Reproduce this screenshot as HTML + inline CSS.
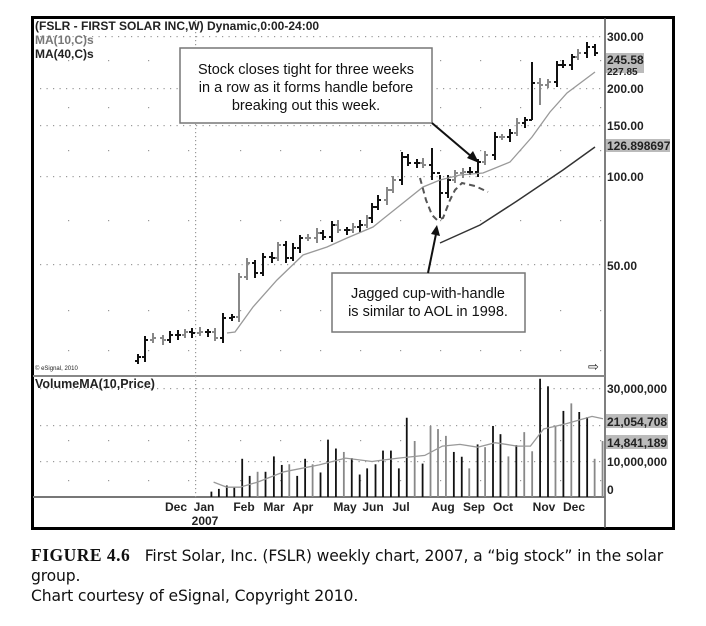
<!DOCTYPE html>
<html><head><meta charset="utf-8">
<style>
body{margin:0;background:#fff;width:706px;height:626px;overflow:hidden;font-family:"Liberation Sans",sans-serif}
svg{position:absolute;left:0;top:0}
.cap{position:absolute;left:31px;font-size:15.6px;color:#111;line-height:20px;font-family:"DejaVu Sans","Liberation Sans",sans-serif;letter-spacing:-0.15px;white-space:nowrap}
</style></head><body>
<svg id="s" width="706" height="626" xmlns="http://www.w3.org/2000/svg" font-family="Liberation Sans, sans-serif">
<rect x="32.5" y="17.5" width="641" height="511" fill="#fff" stroke="#000" stroke-width="3"/>
<line x1="605" y1="18" x2="605" y2="528" stroke="#555" stroke-width="1.5"/>
<line x1="33" y1="376" x2="605" y2="376" stroke="#888" stroke-width="2"/>
<line x1="33" y1="497" x2="605" y2="497" stroke="#777" stroke-width="2"/>
<g id="grid" fill="#999"></g>
<g id="bars"></g>
<polyline fill="none" stroke="#999" stroke-width="1.3" points="227,333 235,332 253,307 277,280 303,255 327,247 347,238 373,227 403,203 423,187 440,180 460,175 483,173 510,162 532,137 550,112 567,93 595,72"/>
<polyline fill="none" stroke="#333" stroke-width="1.5" points="440,243 480,225 517,201 563,170 595,147"/>
<polyline fill="none" stroke="#555" stroke-width="2" stroke-dasharray="6,4" points="420,178 426,200 432,215 437,220 443,218 450,200 455,190 462,183 475,186 488,192"/>
<rect x="180" y="48" width="252" height="75" fill="#fff" stroke="#777" stroke-width="1.5"/>
<g font-size="14.5" text-anchor="middle" fill="#111">
<text x="306" y="74">Stock closes tight for three weeks</text>
<text x="306" y="92">in a row as it forms handle before</text>
<text x="306" y="110">breaking out this week.</text>
</g>
<line x1="432" y1="123" x2="472" y2="157" stroke="#111" stroke-width="2"/>
<polygon points="479,163 467,158 473,151" fill="#111"/>
<rect x="332" y="273" width="193" height="59" fill="#fff" stroke="#777" stroke-width="1.5"/>
<g font-size="14.5" text-anchor="middle" fill="#111">
<text x="428" y="298">Jagged cup-with-handle</text>
<text x="428" y="316">is similar to AOL in 1998.</text>
</g>
<line x1="428" y1="273" x2="436" y2="234" stroke="#111" stroke-width="2"/>
<polygon points="437,225 440,236 431,234" fill="#111"/>
<g id="vol"></g>
<polyline id="vma" fill="none" stroke="#999" stroke-width="1.3" points=""/>
<g font-size="12" font-weight="bold" fill="#222">
<text x="35" y="30">(FSLR - FIRST SOLAR INC,W) Dynamic,0:00-24:00</text>
<text x="35" y="44" fill="#777">MA(10,C)s</text>
<text x="35" y="58">MA(40,C)s</text>
<text x="35" y="388" font-size="12.5">VolumeMA(10,Price)</text>
<text x="35" y="370" font-size="6" font-weight="normal">© eSignal, 2010</text>
<text x="588" y="371" font-size="13" font-weight="normal">⇨</text>
</g>
<g font-size="12" font-weight="bold" fill="#222">
<rect x="606" y="53" width="38" height="12" fill="#bbb"/>
<rect x="606" y="63" width="38" height="10" fill="#bbb"/>
<rect x="606" y="139" width="64" height="13" fill="#bbb"/>
<rect x="606" y="414" width="62" height="14" fill="#bbb"/>
<rect x="606" y="435" width="62" height="14" fill="#bbb"/>
<text x="607" y="41">300.00</text>
<text x="607" y="64">245.58</text>
<text x="607" y="75" font-size="10">227.85</text>
<text x="607" y="93">200.00</text>
<text x="607" y="130">150.00</text>
<text x="607" y="150">126.898697</text>
<text x="607" y="181">100.00</text>
<text x="607" y="270">50.00</text>
<text x="607" y="393">30,000,000</text>
<text x="607" y="426">21,054,708</text>
<text x="607" y="447">14,841,189</text>
<text x="607" y="466">10,000,000</text>
<text x="607" y="494">0</text>
</g>
<g font-size="12" font-weight="bold" fill="#222" text-anchor="middle">
<text x="176" y="511">Dec</text><text x="204" y="511">Jan</text><text x="205" y="525">2007</text>
<text x="244" y="511">Feb</text><text x="274" y="511">Mar</text><text x="303" y="511">Apr</text>
<text x="345" y="511">May</text><text x="373" y="511">Jun</text><text x="401" y="511">Jul</text>
<text x="443" y="511">Aug</text><text x="474" y="511">Sep</text><text x="503" y="511">Oct</text>
<text x="544" y="511">Nov</text><text x="574" y="511">Dec</text>
</g>
</svg>
<div class="cap" style="top:545px"><b style="font-family:'Liberation Serif',serif;font-size:17.5px;letter-spacing:0.5px">FIGURE 4.6</b>&nbsp;&nbsp; First Solar, Inc. (FSLR) weekly chart, 2007, a “big stock” in the solar</div>
<div class="cap" style="top:566px">group.</div>
<div class="cap" style="top:586px">Chart courtesy of eSignal, Copyright 2010.</div>
<script>
var NS="http://www.w3.org/2000/svg";
function el(p,t,a){var e=document.createElementNS(NS,t);for(var k in a)e.setAttribute(k,a[k]);p.appendChild(e);return e;}
var g=document.getElementById('grid');
[36,88,125,176,264,388,425,461].forEach(function(y){for(var x=40;x<603;x+=6.5)el(g,'rect',{x:x,y:y,width:1.2,height:1.2});});
[60,107,150,220,310,350,440,480].forEach(function(y){for(var x=68;x<603;x+=40)el(g,'rect',{x:x+(x>190?12:0),y:y,width:1.2,height:1.2});});
for(var y=20;y<500;y+=4)el(g,'rect',{x:195,y:y,width:1.2,height:1.2});
var pts=[[138,357],[145,340],[153,338],[163,340],[170,335],[178,335],[185,332],[192,333],[200,332],[208,332],[215,338],[223,318],[232,317],[239,277],[247,263],[255,273],[263,257],[272,258],[278,245],[286,258],[293,248],[300,238],[308,238],[317,233],[323,237],[332,225],[338,230],[347,230],[353,227],[360,225],[367,218],[372,207],[378,200],[387,190],[393,180],[402,157],[408,163],[417,163],[423,165],[432,173],[440,193],[448,180],[455,173],[463,172],[470,172],[478,162],[485,155],[495,137],[502,137],[510,133],[517,123],[525,120],[532,83],[540,85],[548,82],[557,65],[563,65],[572,57],[578,53],[587,47],[595,53]];
var b=document.getElementById('bars');
var prev=pts[0][1]+4;
pts.forEach(function(p,i){
 var x=p[0],c=p[1],o=prev;var hi=Math.min(o,c)-3-(i%3),lo=Math.max(o,c)+3+(i%2)*2;
 if(i==39){hi=148;lo=180;} if(i==40){lo=218;hi=175;} if(i==52){hi=62;lo=120;} if(i==53){lo=105;}
 var col=(i%4==2||i%5==3)?'#888':'#111';
 el(b,'line',{x1:x,y1:hi,x2:x,y2:lo,stroke:col,'stroke-width':2});
 el(b,'line',{x1:x-3,y1:o,x2:x,y2:o,stroke:col,'stroke-width':2});
 el(b,'line',{x1:x,y1:c,x2:x+3,y2:c,stroke:col,'stroke-width':2});
 prev=c;});
function X(v){return 20+v*0.44;} function Y(v){return 388+(v-95)*0.342;}
var v=[[435,398],[452,390],[470,380],[487,385],[505,302],[522,352],[540,340],[558,340],[577,295],[595,320],[612,318],[630,352],[648,302],[665,318],[683,342],[700,246],[718,272],[736,282],[754,300],[772,348],[789,330],[808,318],[825,278],[843,278],[861,330],[879,182],[897,250],[915,316],[933,206],[950,215],[968,235],[986,282],[1004,296],[1021,330],[1040,260],[1057,268],[1075,206],[1092,230],[1110,295],[1128,262],[1146,224],[1164,280],[1182,68],[1200,90],[1217,205],[1235,162],[1253,140],[1271,165],[1289,180],[1306,302],[1324,250]];
var vg=document.getElementById('vol');
var blk=[0,1,2,3,4,5,7,8,9,11,12,14,15,16,18,19,20,21,22,23,24,25,27,31,32,34,36,37,39,42,43,45,47,48];
v.forEach(function(p,i){var x=X(p[0]),y=Y(p[1]);
 var col=blk.indexOf(i)>=0?'#111':'#888';
 el(vg,'line',{x1:x,y1:y,x2:x,y2:497,stroke:col,'stroke-width':1.8});});
var m=[[440,370],[470,385],[500,385],[540,370],[600,340],[680,320],[740,300],[800,310],[860,300],[920,292],[960,265],[1000,260],[1040,268],[1080,255],[1130,265],[1160,265],[1190,215],[1240,200],[1300,178],[1325,185]];
document.getElementById('vma').setAttribute('points',m.map(function(p){return X(p[0]).toFixed(1)+','+Y(p[1]).toFixed(1);}).join(' '));
</script>
</body></html>
